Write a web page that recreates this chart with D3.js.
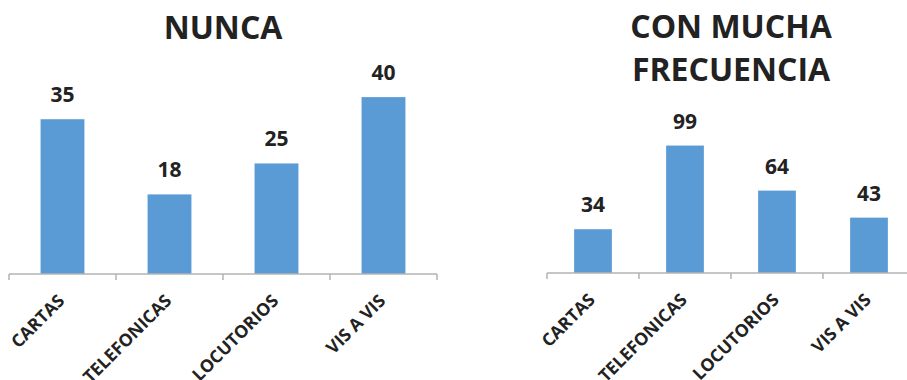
<!DOCTYPE html>
<html>
<head>
<meta charset="utf-8">
<script src="https://cdn.jsdelivr.net/npm/d3@7"></script>
<style>
  html, body { margin: 0; padding: 0; background: #fff; }
  svg { display: block; }
  text { font-family: "Open Sans", "DejaVu Sans", sans-serif; font-weight: bold; fill: #222; }
</style>
</head>
<body>
<svg id="chart" width="907" height="380"></svg>
<script>
// Categories shared by both panels
const categories = ["CARTAS", "TELEFONICAS", "LOCUTORIOS", "VIS A VIS"];

// Panel values
const nuncaValues = [35, 18, 25, 40];
const frecuenciaValues = [34, 99, 64, 43];

// Panel titles (one entry per line)
const nuncaTitle = ["NUNCA"];
const frecuenciaTitle = ["CON MUCHA", "FRECUENCIA"];

const svg = d3.select("#chart");
const barColor = "#5b9bd5";
const axisColor = "#b3b3b3";

function drawPanel(cfg) {
  const g = svg.append("g");

  const x = d3.scaleBand().domain(categories).range(cfg.xRange).padding(0);
  const y = d3.scaleLinear().domain([0, cfg.yMax]).range([cfg.baseY, cfg.topY]);
  const barFrac = 0.41;

  // Title
  const title = g.append("text")
    .attr("x", cfg.titleX)
    .attr("y", cfg.titleY)
    .attr("text-anchor", "middle")
    .style("font-size", "32px");
  cfg.title.forEach((line, i) => {
    title.append("tspan")
      .attr("x", cfg.titleX)
      .attr("dy", i === 0 ? 0 : 43)
      .text(line);
  });

  // Bars
  g.selectAll("rect.bar")
    .data(cfg.values)
    .join("rect")
    .attr("class", "bar")
    .attr("x", (d, i) => x(categories[i]) + x.bandwidth() * (1 - barFrac) / 2)
    .attr("width", x.bandwidth() * barFrac)
    .attr("y", d => y(d))
    .attr("height", d => y(0) - y(d))
    .attr("fill", barColor);

  // Value labels
  g.selectAll("text.val")
    .data(cfg.values)
    .join("text")
    .attr("class", "val")
    .attr("x", (d, i) => x(categories[i]) + x.bandwidth() / 2)
    .attr("y", d => y(d) - 17)
    .attr("text-anchor", "middle")
    .style("font-size", "21px")
    .text(d => d);

  // Category axis: baseline with ticks at the band boundaries
  const axisG = g.append("g").attr("transform", `translate(0,${cfg.baseY})`);
  axisG.append("line")
    .attr("x1", cfg.xRange[0]).attr("x2", cfg.xRange[1])
    .attr("y1", 0).attr("y2", 0)
    .attr("stroke", axisColor).attr("stroke-width", 1.5);
  const bounds = categories.map(c => x(c)).concat([x(categories[categories.length - 1]) + x.bandwidth()]);
  axisG.selectAll("line.tick")
    .data(bounds)
    .join("line")
    .attr("class", "tick")
    .attr("x1", d => d).attr("x2", d => d)
    .attr("y1", 0).attr("y2", 6)
    .attr("stroke", axisColor).attr("stroke-width", 1.5);

  axisG.selectAll("text.cat")
    .data(categories)
    .join("text")
    .attr("class", "cat")
    .attr("text-anchor", "end")
    .attr("transform", c => `translate(${x(c) + x.bandwidth() / 2 + 3},${28}) rotate(-45)`)
    .style("font-size", "17.5px")
    .text(c => c);
}

drawPanel({
  values: nuncaValues,
  title: nuncaTitle,
  titleX: 223, titleY: 39,
  xRange: [9, 437],
  baseY: 274, topY: 75, yMax: 45
});

drawPanel({
  values: frecuenciaValues,
  title: frecuenciaTitle,
  titleX: 731, titleY: 38,
  xRange: [547, 915],
  baseY: 273, topY: 118.5, yMax: 120
});
</script>
</body>
</html>
